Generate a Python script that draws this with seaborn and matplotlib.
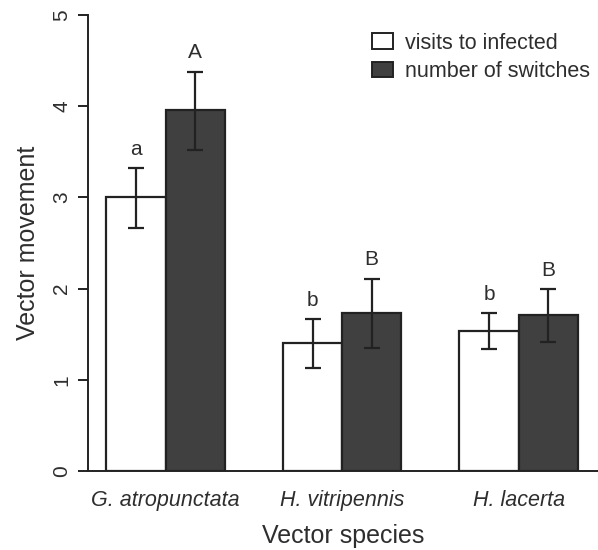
import matplotlib
matplotlib.use("Agg")
import matplotlib.pyplot as plt
import seaborn as sns
import pandas as pd
import numpy as np

species = ["G. atropunctata", "H. vitripennis", "H. lacerta"]
series = ["visits to infected", "number of switches"]
visits = [3.00, 1.40, 1.53]
visits_lo = [2.67, 1.13, 1.34]
visits_hi = [3.32, 1.67, 1.73]
switches = [3.96, 1.73, 1.71]
switches_lo = [3.52, 1.35, 1.42]
switches_hi = [4.38, 2.11, 2.00]
letters_visits = ["a", "b", "b"]
letters_switches = ["A", "B", "B"]

sns.set_style("ticks")
plt.rcParams["font.family"] = ["Liberation Sans", "DejaVu Sans"]
TXT = "#2e2e2e"

df = pd.DataFrame({
    "species": species * 2,
    "series": [series[0]] * 3 + [series[1]] * 3,
    "value": visits + switches,
})

fig = plt.figure(figsize=(5.98, 5.5), dpi=100)
ax = fig.add_axes([0.147, 0.1436, 0.853, 0.829])

sns.barplot(data=df, x="species", y="value", hue="series", order=species,
            hue_order=series, palette=["white", "#404040"], width=0.67,
            edgecolor="#222222", linewidth=1.6, errorbar=None, ax=ax, zorder=2)

patches = [p for p in ax.patches if p.get_height() > 0]
patches = sorted(patches, key=lambda p: p.get_x())
allvals = []
for i in range(3):
    allvals.append((visits[i], visits_lo[i], visits_hi[i], letters_visits[i]))
    allvals.append((switches[i], switches_lo[i], switches_hi[i], letters_switches[i]))
for p, (v, lo, hi, let) in zip(patches, allvals):
    xc = p.get_x() + p.get_width() / 2
    ax.errorbar([xc], [v], yerr=[[v - lo], [hi - v]], fmt="none",
                ecolor="#222222", elinewidth=1.6, capsize=6, capthick=1.6, zorder=3)
    ax.text(xc, hi + 0.1, let, ha="center", va="bottom", fontsize=15, color=TXT)

ax.set_xlim(-0.44, 2.45)
ax.set_ylim(0, 5)
ax.set_yticks([0, 1, 2, 3, 4, 5])
ax.set_yticklabels(["0", "1", "2", "3", "4", "5"], rotation=90, va="center")
ax.tick_params(axis="y", length=7, width=1.4, colors="#222222", labelcolor=TXT,
               labelsize=15, pad=5)
ax.tick_params(axis="x", length=0, labelsize=15.5, labelcolor=TXT, pad=14)
for lab in ax.get_xticklabels():
    lab.set_fontstyle("italic")
ax.set_xlabel("Vector species", fontsize=18, labelpad=9, color=TXT)
ax.set_ylabel("Vector movement", fontsize=18, labelpad=9, color=TXT)

sns.despine(ax=ax, top=True, right=True)
for s in ("left", "bottom"):
    ax.spines[s].set_linewidth(1.4)
    ax.spines[s].set_color("#222222")
ax.spines["bottom"].set_zorder(4)

leg = ax.legend(loc="upper right", bbox_to_anchor=(1.01, 0.99), frameon=False,
                fontsize=15.5, handlelength=1.0, handleheight=0.75, handletextpad=0.55,
                labelspacing=0.35, borderaxespad=0.2)
for t in leg.get_texts():
    t.set_color(TXT)
for h in leg.legend_handles:
    h.set_edgecolor("#222222")
    h.set_linewidth(1.4)

fig.savefig("out.png", dpi=100)
